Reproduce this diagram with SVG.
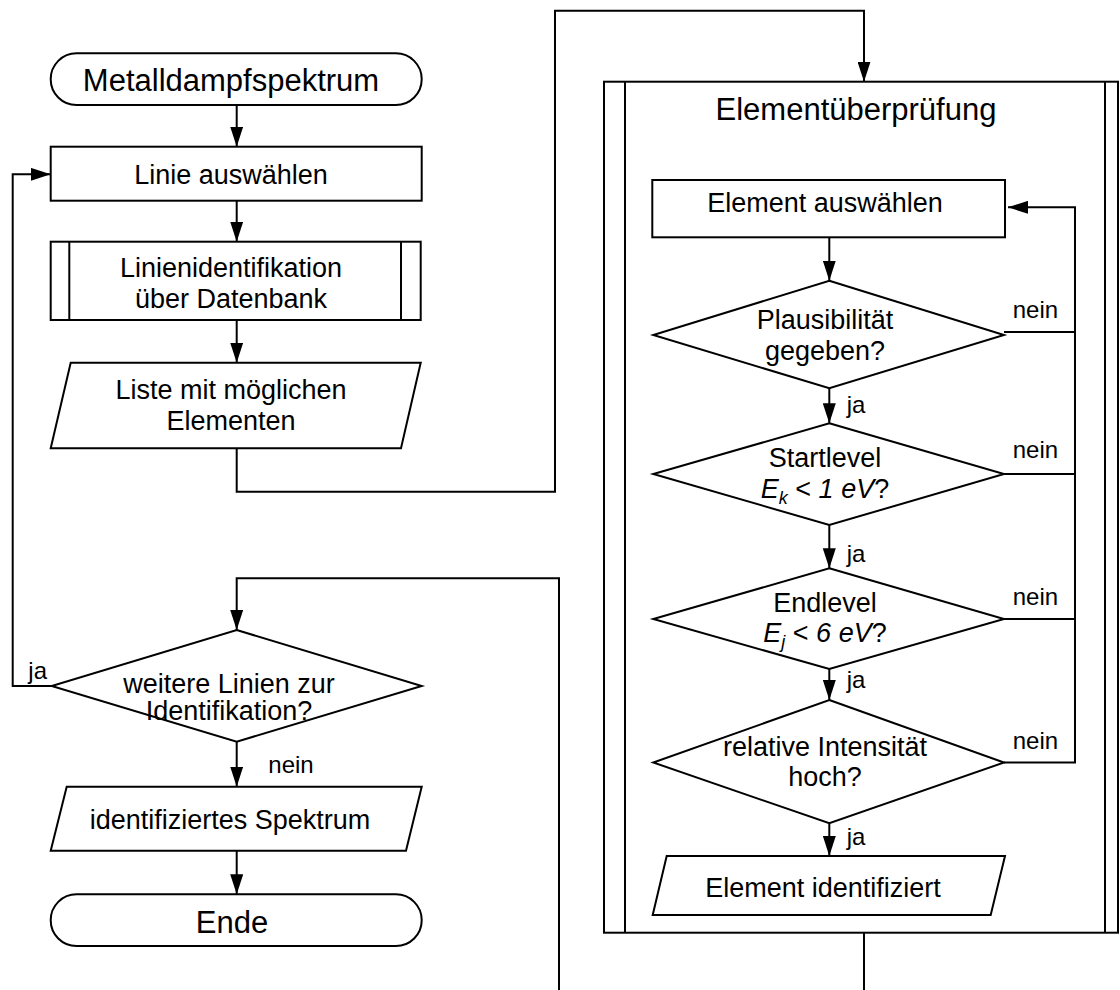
<svg xmlns="http://www.w3.org/2000/svg" width="1120" height="990" viewBox="0 0 1120 990">
<style>
  .s{fill:#fff;stroke:#000;stroke-width:2}
  .l{fill:none;stroke:#000;stroke-width:2}
  .c{fill:none;stroke:#000;stroke-width:2}
  .a{marker-end:url(#ah)}
  text{font-family:"Liberation Sans",Arial,sans-serif;fill:#000}
  .t{font-size:31px;text-anchor:middle}
  .b{font-size:27px;text-anchor:middle}
  .lb{font-size:24px}
  .i{font-style:italic}
</style>
<defs>
  <marker id="ah" markerUnits="userSpaceOnUse" markerWidth="20" markerHeight="13" refX="20" refY="6.5" orient="auto">
    <path d="M0,0 L20,6.5 L0,13 z" fill="#000"/>
  </marker>
</defs>
<rect width="1120" height="990" fill="#fff"/>

<g id="elementueberpruefung">
  <rect class="s" x="604" y="81.7" width="514" height="851"/>
  <line class="l" x1="625" y1="81.7" x2="625" y2="932.7"/>
  <line class="l" x1="1105" y1="81.7" x2="1105" y2="932.7"/>
  <text class="t" x="856" y="120">Elementüberprüfung</text>
</g>

<g id="start">
  <rect class="s" x="50.7" y="53.3" width="371" height="51.7" rx="25.8" ry="25.8"/>
  <text class="t" x="231" y="90.7">Metalldampfspektrum</text>
</g>

<g id="linie-auswaehlen">
  <rect class="s" x="50.7" y="146.7" width="371" height="54"/>
  <text class="b" x="231" y="184">Linie auswählen</text>
</g>

<g id="linienidentifikation">
  <rect class="s" x="50.7" y="241.7" width="370" height="78.3"/>
  <line class="l" x1="69.3" y1="241.7" x2="69.3" y2="320"/>
  <line class="l" x1="401" y1="241.7" x2="401" y2="320"/>
  <text class="b" x="231" y="276.7">Linienidentifikation</text>
  <text class="b" x="231" y="308.3">über Datenbank</text>
</g>

<g id="liste">
  <polygon class="s" points="70.7,362.7 420.7,362.7 401,448.3 50.7,448.3"/>
  <text class="b" x="231" y="399">Liste mit möglichen</text>
  <text class="b" x="231" y="430">Elementen</text>
</g>

<g id="weitere-linien">
  <polygon class="s" points="236.7,630 421.7,686 236.7,741.7 51.7,686"/>
  <text class="b" x="229" y="693">weitere Linien zur</text>
  <text class="b" x="229" y="720">Identifikation?</text>
</g>

<g id="identifiziertes-spektrum">
  <polygon class="s" points="66.7,786.7 421.7,786.7 406,850.7 50.7,850.7"/>
  <text class="b" x="230" y="829">identifiziertes Spektrum</text>
</g>

<g id="ende">
  <rect class="s" x="50.7" y="894.3" width="371" height="51.7" rx="25.8" ry="25.8"/>
  <text class="t" x="232" y="933.3">Ende</text>
</g>

<g id="element-auswaehlen">
  <rect class="s" x="652.3" y="180" width="352.7" height="57.3"/>
  <text class="b" x="825" y="211.7">Element auswählen</text>
</g>

<g id="plausibilitaet">
  <polygon class="s" points="829.3,280.7 1004,335 829.3,388.3 653.3,335"/>
  <text class="b" x="825" y="329.3">Plausibilität</text>
  <text class="b" x="825" y="360">gegeben?</text>
</g>

<g id="startlevel">
  <polygon class="s" points="829.3,423.3 1004,474 829.3,525 653.3,474"/>
  <text class="b" x="825" y="466.7">Startlevel</text>
  <text class="b" x="825" y="498.3"><tspan class="i">E</tspan><tspan class="i" font-size="18" dy="6">k</tspan><tspan dy="-6"> &lt; </tspan><tspan class="i">1 eV</tspan>?</text>
</g>

<g id="endlevel">
  <polygon class="s" points="829.3,568.3 1004,619 829.3,669 653.3,619"/>
  <text class="b" x="825" y="611.7">Endlevel</text>
  <text class="b" x="825" y="641.7"><tspan class="i">E</tspan><tspan class="i" font-size="18" dy="6">j</tspan><tspan dy="-6"> &lt; </tspan><tspan class="i">6 eV</tspan>?</text>
</g>

<g id="intensitaet">
  <polygon class="s" points="829.3,700 1004,762.5 829.3,823.3 653.3,762.5"/>
  <text class="b" x="825" y="756">relative Intensität</text>
  <text class="b" x="825" y="786">hoch?</text>
</g>

<g id="element-identifiziert">
  <polygon class="s" points="666.7,856 1005,856 990.7,915 652.7,915"/>
  <text class="b" x="823" y="896.7">Element identifiziert</text>
</g>

<g id="connectors">
  <line class="c a" x1="236.7" y1="105" x2="236.7" y2="146.7"/>
  <line class="c a" x1="236.7" y1="200.7" x2="236.7" y2="241.7"/>
  <line class="c a" x1="236.7" y1="320" x2="236.7" y2="362.7"/>
  <polyline class="c a" points="236.7,448.3 236.7,491.7 555,491.7 555,10.7 864,10.7 864,81.7"/>
  <polyline class="c a" points="559,990 559,578.3 236.7,578.3 236.7,630"/>
  <polyline class="c a" points="51.7,686 12.7,686 12.7,174.3 50.7,174.3"/>
  <line class="c a" x1="236.7" y1="741.7" x2="236.7" y2="786.7"/>
  <line class="c a" x1="236.7" y1="850.7" x2="236.7" y2="894.3"/>
  <line class="c a" x1="829.3" y1="237.3" x2="829.3" y2="280.7"/>
  <line class="c a" x1="829.3" y1="388.3" x2="829.3" y2="423.3"/>
  <line class="c a" x1="829.3" y1="525" x2="829.3" y2="568.3"/>
  <line class="c a" x1="829.3" y1="669" x2="829.3" y2="700"/>
  <line class="c a" x1="829.3" y1="823.3" x2="829.3" y2="856"/>
  <polyline class="c" points="1004,332 1075,332"/>
  <polyline class="c" points="1004,474 1075,474"/>
  <polyline class="c" points="1004,619 1075,619"/>
  <polyline class="c a" points="1004,762.5 1075,762.5 1075,207.3 1008,207.3"/>
  <line class="c" x1="864" y1="932.7" x2="864" y2="990"/>
  <text class="lb" x="28.3" y="679">ja</text>
  <text class="lb" x="268.3" y="773.3">nein</text>
  <text class="lb" x="1012.7" y="318.3">nein</text>
  <text class="lb" x="1012.7" y="458.3">nein</text>
  <text class="lb" x="1012.7" y="605">nein</text>
  <text class="lb" x="1012.7" y="749.3">nein</text>
  <text class="lb" x="846.7" y="413.3">ja</text>
  <text class="lb" x="846.7" y="561.7">ja</text>
  <text class="lb" x="846.7" y="688.3">ja</text>
  <text class="lb" x="846.7" y="845">ja</text>
</g>
</svg>
